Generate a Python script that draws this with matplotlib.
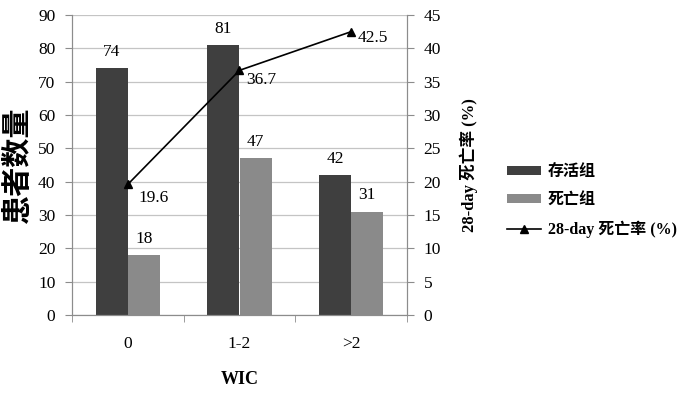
import matplotlib
matplotlib.use("Agg")
import matplotlib.pyplot as plt
import numpy as np

categories = ["0", "1-2", ">2"]
survived = [74, 81, 42]
died = [18, 47, 31]
mortality = [19.6, 36.7, 42.5]

_DARK, _LIGHT, _GRID, _AXIS = "#3f3f3f", "#8a8a8a", "#c4c4c4", "#8c8c8c"
SERIF = ["Liberation Serif", "Noto Sans CJK SC"]
CJK = ["Noto Sans CJK SC", "Liberation Serif"]

plt.rcParams["font.family"] = SERIF

fig = plt.figure(figsize=(7.0, 3.94), dpi=100)
ax = fig.add_axes([72 / 700, 1 - 315 / 394, 335 / 700, 300 / 394])
ax2 = ax.twinx()

x = np.arange(len(categories))
w = 0.287
ax.bar(x - w / 2, survived, w, color=_DARK, label="存活组", zorder=2)
ax.bar(x + w / 2, died, w, color=_LIGHT, label="死亡组", zorder=2)
for xi, a, b in zip(x, survived, died):
    ax.annotate(str(a), (xi - w / 2, a), xytext=(0, 6), textcoords="offset points",
                ha="center", va="bottom", fontsize=12.5)
    ax.annotate(str(b), (xi + w / 2, b), xytext=(0, 6), textcoords="offset points",
                ha="center", va="bottom", fontsize=12.5)

ax2.plot(x, mortality, "-^", color="black", lw=1.2, ms=6, label="28-day 死亡率 (%)")
offsets = [(8, -4), (5, -1), (5, 1)]
for xi, m, off in zip(x, mortality, offsets):
    ax2.annotate(f"{m}", (xi, m), xytext=off, textcoords="offset points",
                 ha="left", va="top", fontsize=12.5)

ax.set_xlim(-0.5, 2.5)
ax.set_ylim(0, 90)
ax.set_yticks(np.arange(0, 91, 10))
ax2.set_ylim(0, 45)
ax2.set_yticks(np.arange(0, 46, 5))
ax.set_xticks(x)
ax.set_xticklabels(categories)
ax.set_xticks([-0.5, 0.5, 1.5, 2.5], minor=True)
ax.tick_params(axis="x", which="major", length=0, pad=15, labelsize=12.5)
ax.tick_params(axis="x", which="minor", length=5, color=_AXIS)
ax.tick_params(axis="y", length=5, color=_AXIS, labelsize=12.5, pad=7)
ax2.tick_params(axis="y", length=5, color=_AXIS, labelsize=12.5, pad=7)

ax.grid(axis="y", color=_GRID, lw=0.9, zorder=0)
ax.set_axisbelow(True)
for a in (ax, ax2):
    for side in ("left", "right", "bottom"):
        a.spines[side].set_color(_AXIS)
    a.spines["top"].set_visible(False)

ax.set_xlabel("WIC", fontsize=13, fontweight="bold", labelpad=14)
ax.set_ylabel("患者数量", family=CJK, fontsize=21, fontweight="bold", labelpad=4)
ax2.set_ylabel("28-day 死亡率 (%)", family=["Liberation Serif", "Noto Sans CJK SC"],
               fontsize=12, fontweight="bold", labelpad=13)

h1, l1 = ax.get_legend_handles_labels()
h2, l2 = ax2.get_legend_handles_labels()
fig.legend(h1 + h2, l1 + l2, loc="center left", bbox_to_anchor=(507 / 700, 1 - 201 / 394),
           frameon=False, borderpad=0, borderaxespad=0,
           handlelength=2.1, handleheight=0.5, labelspacing=0.75, handletextpad=0.45,
           prop={"family": ["Liberation Serif", "Noto Sans CJK SC"], "weight": "bold", "size": 11.5})

fig.savefig("out.png", dpi=100, facecolor="white")
